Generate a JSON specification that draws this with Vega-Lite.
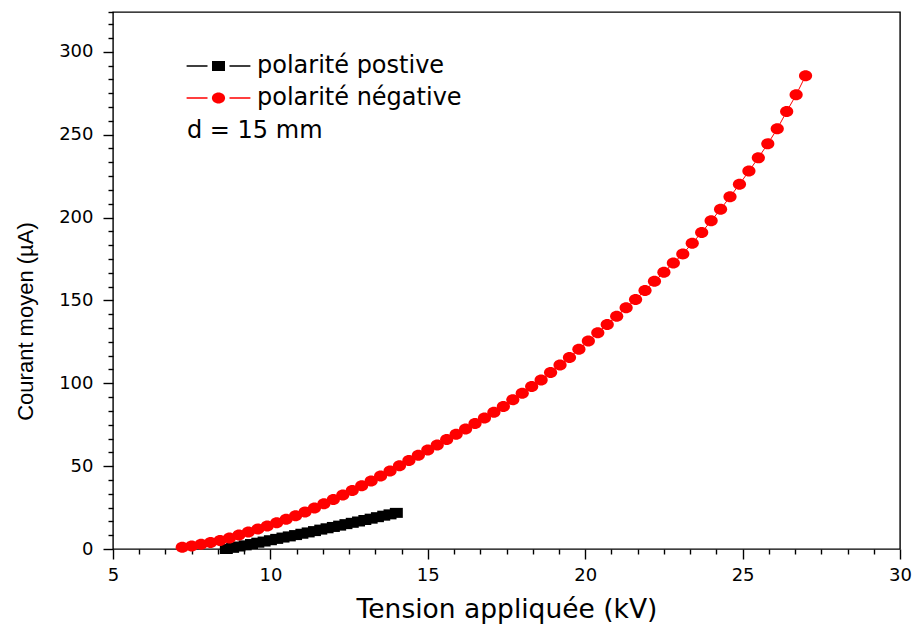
{
  "$schema": "https://vega.github.io/schema/vega-lite/v6.json",
  "width": 787,
  "height": 537,
  "autosize": "none",
  "padding": {"top": 12, "left": 113, "right": 14, "bottom": 85},
  "background": "white",
  "config": {
    "view": {"stroke": "black", "strokeWidth": 1.4},
    "axis": {"grid": false, "domain": false, "tickColor": "black", "tickWidth": 1.4, "labelColor": "black", "titleColor": "black", "labelFlush": false},
    "legend": {
      "orient": "none", "legendX": 74, "legendY": 42, "padding": 0,
      "titleOrient": "bottom", "titleAnchor": "start", "titleFont": "DejaVu Sans", "titleFontSize": 24, "titleFontWeight": "normal", "titleColor": "black", "titlePadding": 9,
      "labelFont": "DejaVu Sans", "labelFontSize": 24, "labelColor": "black", "labelOffset": 26.5, "labelLimit": 400,
      "symbolOffset": 19.5, "symbolSize": 121, "rowPadding": 8
    }
  },
  "data": {"values": [
    {"series": "polarité postive", "V": 8.6, "I": 0.0},
    {"series": "polarité postive", "V": 8.8, "I": 0.7},
    {"series": "polarité postive", "V": 9.0, "I": 1.5},
    {"series": "polarité postive", "V": 9.2, "I": 2.2},
    {"series": "polarité postive", "V": 9.4, "I": 3.0},
    {"series": "polarité postive", "V": 9.6, "I": 3.8},
    {"series": "polarité postive", "V": 9.8, "I": 4.5},
    {"series": "polarité postive", "V": 10.0, "I": 5.3},
    {"series": "polarité postive", "V": 10.2, "I": 6.1},
    {"series": "polarité postive", "V": 10.4, "I": 6.9},
    {"series": "polarité postive", "V": 10.6, "I": 7.6},
    {"series": "polarité postive", "V": 10.8, "I": 8.4},
    {"series": "polarité postive", "V": 11.0, "I": 9.2},
    {"series": "polarité postive", "V": 11.2, "I": 10.0},
    {"series": "polarité postive", "V": 11.4, "I": 10.8},
    {"series": "polarité postive", "V": 11.6, "I": 11.7},
    {"series": "polarité postive", "V": 11.8, "I": 12.5},
    {"series": "polarité postive", "V": 12.0, "I": 13.3},
    {"series": "polarité postive", "V": 12.2, "I": 14.1},
    {"series": "polarité postive", "V": 12.4, "I": 15.0},
    {"series": "polarité postive", "V": 12.6, "I": 15.8},
    {"series": "polarité postive", "V": 12.8, "I": 16.6},
    {"series": "polarité postive", "V": 13.0, "I": 17.5},
    {"series": "polarité postive", "V": 13.2, "I": 18.3},
    {"series": "polarité postive", "V": 13.4, "I": 19.2},
    {"series": "polarité postive", "V": 13.6, "I": 20.1},
    {"series": "polarité postive", "V": 13.8, "I": 20.9},
    {"series": "polarité postive", "V": 14.0, "I": 21.8},
    {"series": "polarité négative", "V": 7.2, "I": 1.0},
    {"series": "polarité négative", "V": 7.5, "I": 1.8},
    {"series": "polarité négative", "V": 7.8, "I": 2.8},
    {"series": "polarité négative", "V": 8.1, "I": 3.9},
    {"series": "polarité négative", "V": 8.4, "I": 5.2},
    {"series": "polarité négative", "V": 8.7, "I": 6.7},
    {"series": "polarité négative", "V": 9.0, "I": 8.4},
    {"series": "polarité négative", "V": 9.3, "I": 10.2},
    {"series": "polarité négative", "V": 9.6, "I": 12.0},
    {"series": "polarité négative", "V": 9.9, "I": 13.9},
    {"series": "polarité négative", "V": 10.2, "I": 15.8},
    {"series": "polarité négative", "V": 10.5, "I": 17.9},
    {"series": "polarité négative", "V": 10.8, "I": 20.0},
    {"series": "polarité négative", "V": 11.1, "I": 22.3},
    {"series": "polarité négative", "V": 11.4, "I": 24.7},
    {"series": "polarité négative", "V": 11.7, "I": 27.3},
    {"series": "polarité négative", "V": 12.0, "I": 29.9},
    {"series": "polarité négative", "V": 12.3, "I": 32.6},
    {"series": "polarité négative", "V": 12.6, "I": 35.3},
    {"series": "polarité négative", "V": 12.9, "I": 38.1},
    {"series": "polarité négative", "V": 13.2, "I": 41.0},
    {"series": "polarité négative", "V": 13.5, "I": 44.0},
    {"series": "polarité négative", "V": 13.8, "I": 47.1},
    {"series": "polarité négative", "V": 14.1, "I": 50.2},
    {"series": "polarité négative", "V": 14.4, "I": 53.4},
    {"series": "polarité négative", "V": 14.7, "I": 56.5},
    {"series": "polarité négative", "V": 15.0, "I": 59.7},
    {"series": "polarité négative", "V": 15.3, "I": 62.8},
    {"series": "polarité négative", "V": 15.6, "I": 66.0},
    {"series": "polarité négative", "V": 15.9, "I": 69.2},
    {"series": "polarité négative", "V": 16.2, "I": 72.4},
    {"series": "polarité négative", "V": 16.5, "I": 75.7},
    {"series": "polarité négative", "V": 16.8, "I": 79.0},
    {"series": "polarité négative", "V": 17.1, "I": 82.5},
    {"series": "polarité négative", "V": 17.4, "I": 86.0},
    {"series": "polarité négative", "V": 17.7, "I": 90.0},
    {"series": "polarité négative", "V": 18.0, "I": 94.0},
    {"series": "polarité négative", "V": 18.3, "I": 98.0},
    {"series": "polarité négative", "V": 18.6, "I": 102.0},
    {"series": "polarité négative", "V": 18.9, "I": 106.5},
    {"series": "polarité négative", "V": 19.2, "I": 111.0},
    {"series": "polarité négative", "V": 19.5, "I": 115.5},
    {"series": "polarité négative", "V": 19.8, "I": 120.5},
    {"series": "polarité négative", "V": 20.1, "I": 125.5},
    {"series": "polarité négative", "V": 20.4, "I": 130.5},
    {"series": "polarité négative", "V": 20.7, "I": 135.5},
    {"series": "polarité négative", "V": 21.0, "I": 140.5},
    {"series": "polarité négative", "V": 21.3, "I": 145.5},
    {"series": "polarité négative", "V": 21.6, "I": 150.5},
    {"series": "polarité négative", "V": 21.9, "I": 156.0},
    {"series": "polarité négative", "V": 22.2, "I": 161.5},
    {"series": "polarité négative", "V": 22.5, "I": 167.0},
    {"series": "polarité négative", "V": 22.8, "I": 172.5},
    {"series": "polarité négative", "V": 23.1, "I": 178.0},
    {"series": "polarité négative", "V": 23.4, "I": 184.5},
    {"series": "polarité négative", "V": 23.7, "I": 191.0},
    {"series": "polarité négative", "V": 24.0, "I": 198.0},
    {"series": "polarité négative", "V": 24.3, "I": 205.0},
    {"series": "polarité négative", "V": 24.6, "I": 212.5},
    {"series": "polarité négative", "V": 24.9, "I": 220.0},
    {"series": "polarité négative", "V": 25.2, "I": 228.0},
    {"series": "polarité négative", "V": 25.5, "I": 236.0},
    {"series": "polarité négative", "V": 25.8, "I": 244.5},
    {"series": "polarité négative", "V": 26.1, "I": 253.5},
    {"series": "polarité négative", "V": 26.4, "I": 264.0},
    {"series": "polarité négative", "V": 26.7, "I": 274.0},
    {"series": "polarité négative", "V": 27.0, "I": 285.5}
  ]},
  "resolve": {"axis": {"x": "independent", "y": "independent"}},
  "layer": [
    {
      "mark": {"type": "line", "strokeWidth": 1},
      "encoding": {
        "x": {"field": "V", "type": "quantitative", "scale": {"domain": [5, 30], "nice": false, "zero": false},
          "axis": {"orient": "bottom", "values": [5.8333, 6.6667, 7.5, 8.3333, 9.1667, 10.8333, 11.6667, 12.5, 13.3333, 14.1667, 15.8333, 16.6667, 17.5, 18.3333, 19.1667, 20.8333, 21.6667, 22.5, 23.3333, 24.1667, 25.8333, 26.6667, 27.5, 28.3333, 29.1667], "labels": false, "tickSize": 5, "title": null}},
        "y": {"field": "I", "type": "quantitative", "scale": {"domain": [0, 324], "nice": false},
          "axis": {"orient": "left", "values": [8.3333, 16.6667, 25, 33.3333, 41.6667, 58.3333, 66.6667, 75, 83.3333, 91.6667, 108.3333, 116.6667, 125, 133.3333, 141.6667, 158.3333, 166.6667, 175, 183.3333, 191.6667, 208.3333, 216.6667, 225, 233.3333, 241.6667, 258.3333, 266.6667, 275, 283.3333, 291.6667, 308.3333, 316.6667, 324], "labels": false, "tickSize": 5, "title": null}},
        "stroke": {"field": "series", "type": "nominal", "sort": ["polarité postive", "polarité négative"], "scale": {"range": ["#000000", "#ff0000"]},
          "legend": {"title": null, "symbolType": "M-5.8,0H-2M2,0H5.8", "symbolStrokeWidth": 1.3, "labelOpacity": 0}},
        "detail": {"field": "series"}
      }
    },
    {
      "mark": {"type": "point", "filled": true, "opacity": 1, "strokeWidth": 0},
      "encoding": {
        "x": {"field": "V", "type": "quantitative",
          "axis": {"orient": "bottom", "values": [5, 10, 15, 20, 25, 30], "tickSize": 10, "labelFont": "DejaVu Sans", "labelFontSize": 18, "labelPadding": 7, "title": "Tension appliquée (kV)", "titleFont": "DejaVu Sans", "titleFontSize": 26.5, "titleFontWeight": "normal", "titlePadding": 12}},
        "y": {"field": "I", "type": "quantitative",
          "axis": {"orient": "left", "values": [0, 50, 100, 150, 200, 250, 300], "tickSize": 10, "labelFont": "DejaVu Sans", "labelFontSize": 18, "labelPadding": 10, "title": "Courant moyen (µA)", "titleFont": "Liberation Sans", "titleFontSize": 22, "titleFontWeight": "normal", "titleX": -88, "titleY": 309, "titleAngle": -90, "titleBaseline": "middle", "titleAlign": "center"}},
        "color": {"field": "series", "type": "nominal", "scale": {"domain": ["polarité postive", "polarité négative"], "range": ["#000000", "#ff0000"]},
          "legend": {"title": "d = 15 mm"}},
        "shape": {"field": "series", "type": "nominal", "scale": {"domain": ["polarité postive", "polarité négative"], "range": ["M-1.3,-1H1.3V1H-1.3Z", "M-1.2,0A1.2,1 0 1,1 1.2,0A1.2,1 0 1,1 -1.2,0Z"]}, "legend": null},
        "size": {"field": "series", "type": "nominal", "scale": {"domain": ["polarité postive", "polarité négative"], "range": [100, 121]}, "legend": null}
      }
    }
  ]
}
